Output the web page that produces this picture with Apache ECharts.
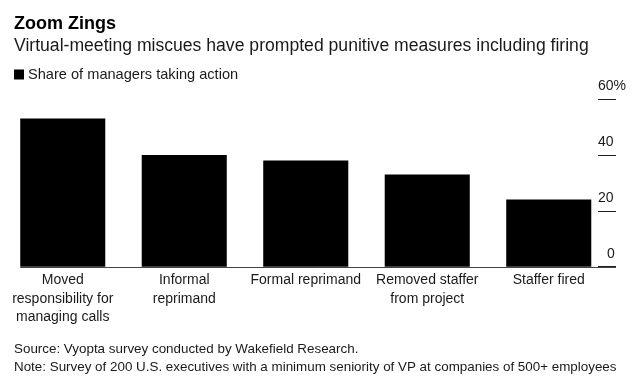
<!DOCTYPE html>
<html>
<head>
<meta charset="utf-8">
<script src="https://cdn.jsdelivr.net/npm/echarts@6/dist/echarts.min.js"></script>
<style>
html,body{margin:0;padding:0;background:#fff;}
#chart{width:633px;height:389px;}
</style>
</head>
<body>
<div id="chart"></div>
<script>
const categories = [
  'Moved\nresponsibility for\nmanaging calls',
  'Informal\nreprimand',
  'Formal reprimand',
  'Removed staffer\nfrom project',
  'Staffer fired'
];
const shareTakingAction = [53, 40, 38, 33, 24];
const yTicks = [0, 20, 40, 60];

const FONT = '"Liberation Sans", Arial, sans-serif';
const chart = echarts.init(document.getElementById('chart'), null, {renderer: 'canvas'});

chart.setOption({
  animation: false,
  backgroundColor: '#fff',
  textStyle: {fontFamily: FONT},
  title: [
    {text: 'Zoom Zings', left: 9, top: 10,
     textStyle: {fontFamily: FONT, fontSize: 18, fontWeight: 'bold', color: '#000'}},
    {text: 'Virtual-meeting miscues have prompted punitive measures including firing', left: 9, top: 32,
     textStyle: {fontFamily: FONT, fontSize: 17.6, fontWeight: 'normal', color: '#1a1a1a'}},
    {text: 'Source: Vyopta survey conducted by Wakefield Research.\nNote: Survey of 200 U.S. executives with a minimum seniority of VP at companies of 500+ employees',
     left: 9, top: 336,
     textStyle: {fontFamily: FONT, fontSize: 13.4, fontWeight: 'normal', color: '#1a1a1a', lineHeight: 17.5}}
  ],
  legend: {
    left: 9, top: 62, itemWidth: 10, itemHeight: 10, itemGap: 6,
    icon: 'rect',
    textStyle: {fontFamily: FONT, fontSize: 14.6, color: '#1a1a1a', padding: [0,0,0,-1]},
    data: ['Share of managers taking action']
  },
  grid: {left: 2, right: 23.5, top: 99, bottom: 122.3, containLabel: false},
  xAxis: {
    type: 'category',
    data: categories,
    axisLine: {show: false},
    axisTick: {show: false},
    axisLabel: {interval: 0, margin: 4.5, fontFamily: FONT, fontSize: 14, lineHeight: 18.5, color: '#1a1a1a'}
  },
  yAxis: {
    type: 'value',
    position: 'right',
    offset: 6.5,
    min: 0, max: 60, interval: 20,
    splitLine: {show: false},
    axisLine: {show: false},
    axisTick: {show: true, inside: true, length: 18, lineStyle: {color: '#222', width: 1}},
    axisLabel: {
      inside: true, margin: 18, align: 'left', verticalAlign: 'bottom',
      padding: [0, 0, 6, 0],
      fontFamily: FONT, fontSize: 14, color: '#1a1a1a',
      formatter: function (v) {
        if (v === 60) return '60%';
        if (v === 0) return '{z|0}';
        return String(v);
      },
      rich: {z: {fontFamily: FONT, fontSize: 14, color: '#1a1a1a', padding: [0, 0, 0, 9]}}
    }
  },
  series: [{
    name: 'Share of managers taking action',
    type: 'bar',
    data: shareTakingAction,
    barCategoryGap: '30%',
    itemStyle: {color: '#000'}
  }]
});

// baseline across the plot, positioned through the value axis scale
const y0 = chart.convertToPixel({yAxisIndex: 0}, 0);
const xStart = chart.convertToPixel({xAxisIndex: 0}, 0) - 42.5;
chart.setOption({
  graphic: [{
    type: 'line', silent: true,
    shape: {x1: xStart, y1: Math.round(y0) + 0.5, x2: 616, y2: Math.round(y0) + 0.5},
    style: {stroke: '#444', lineWidth: 1}
  }]
});
</script>
</body>
</html>
